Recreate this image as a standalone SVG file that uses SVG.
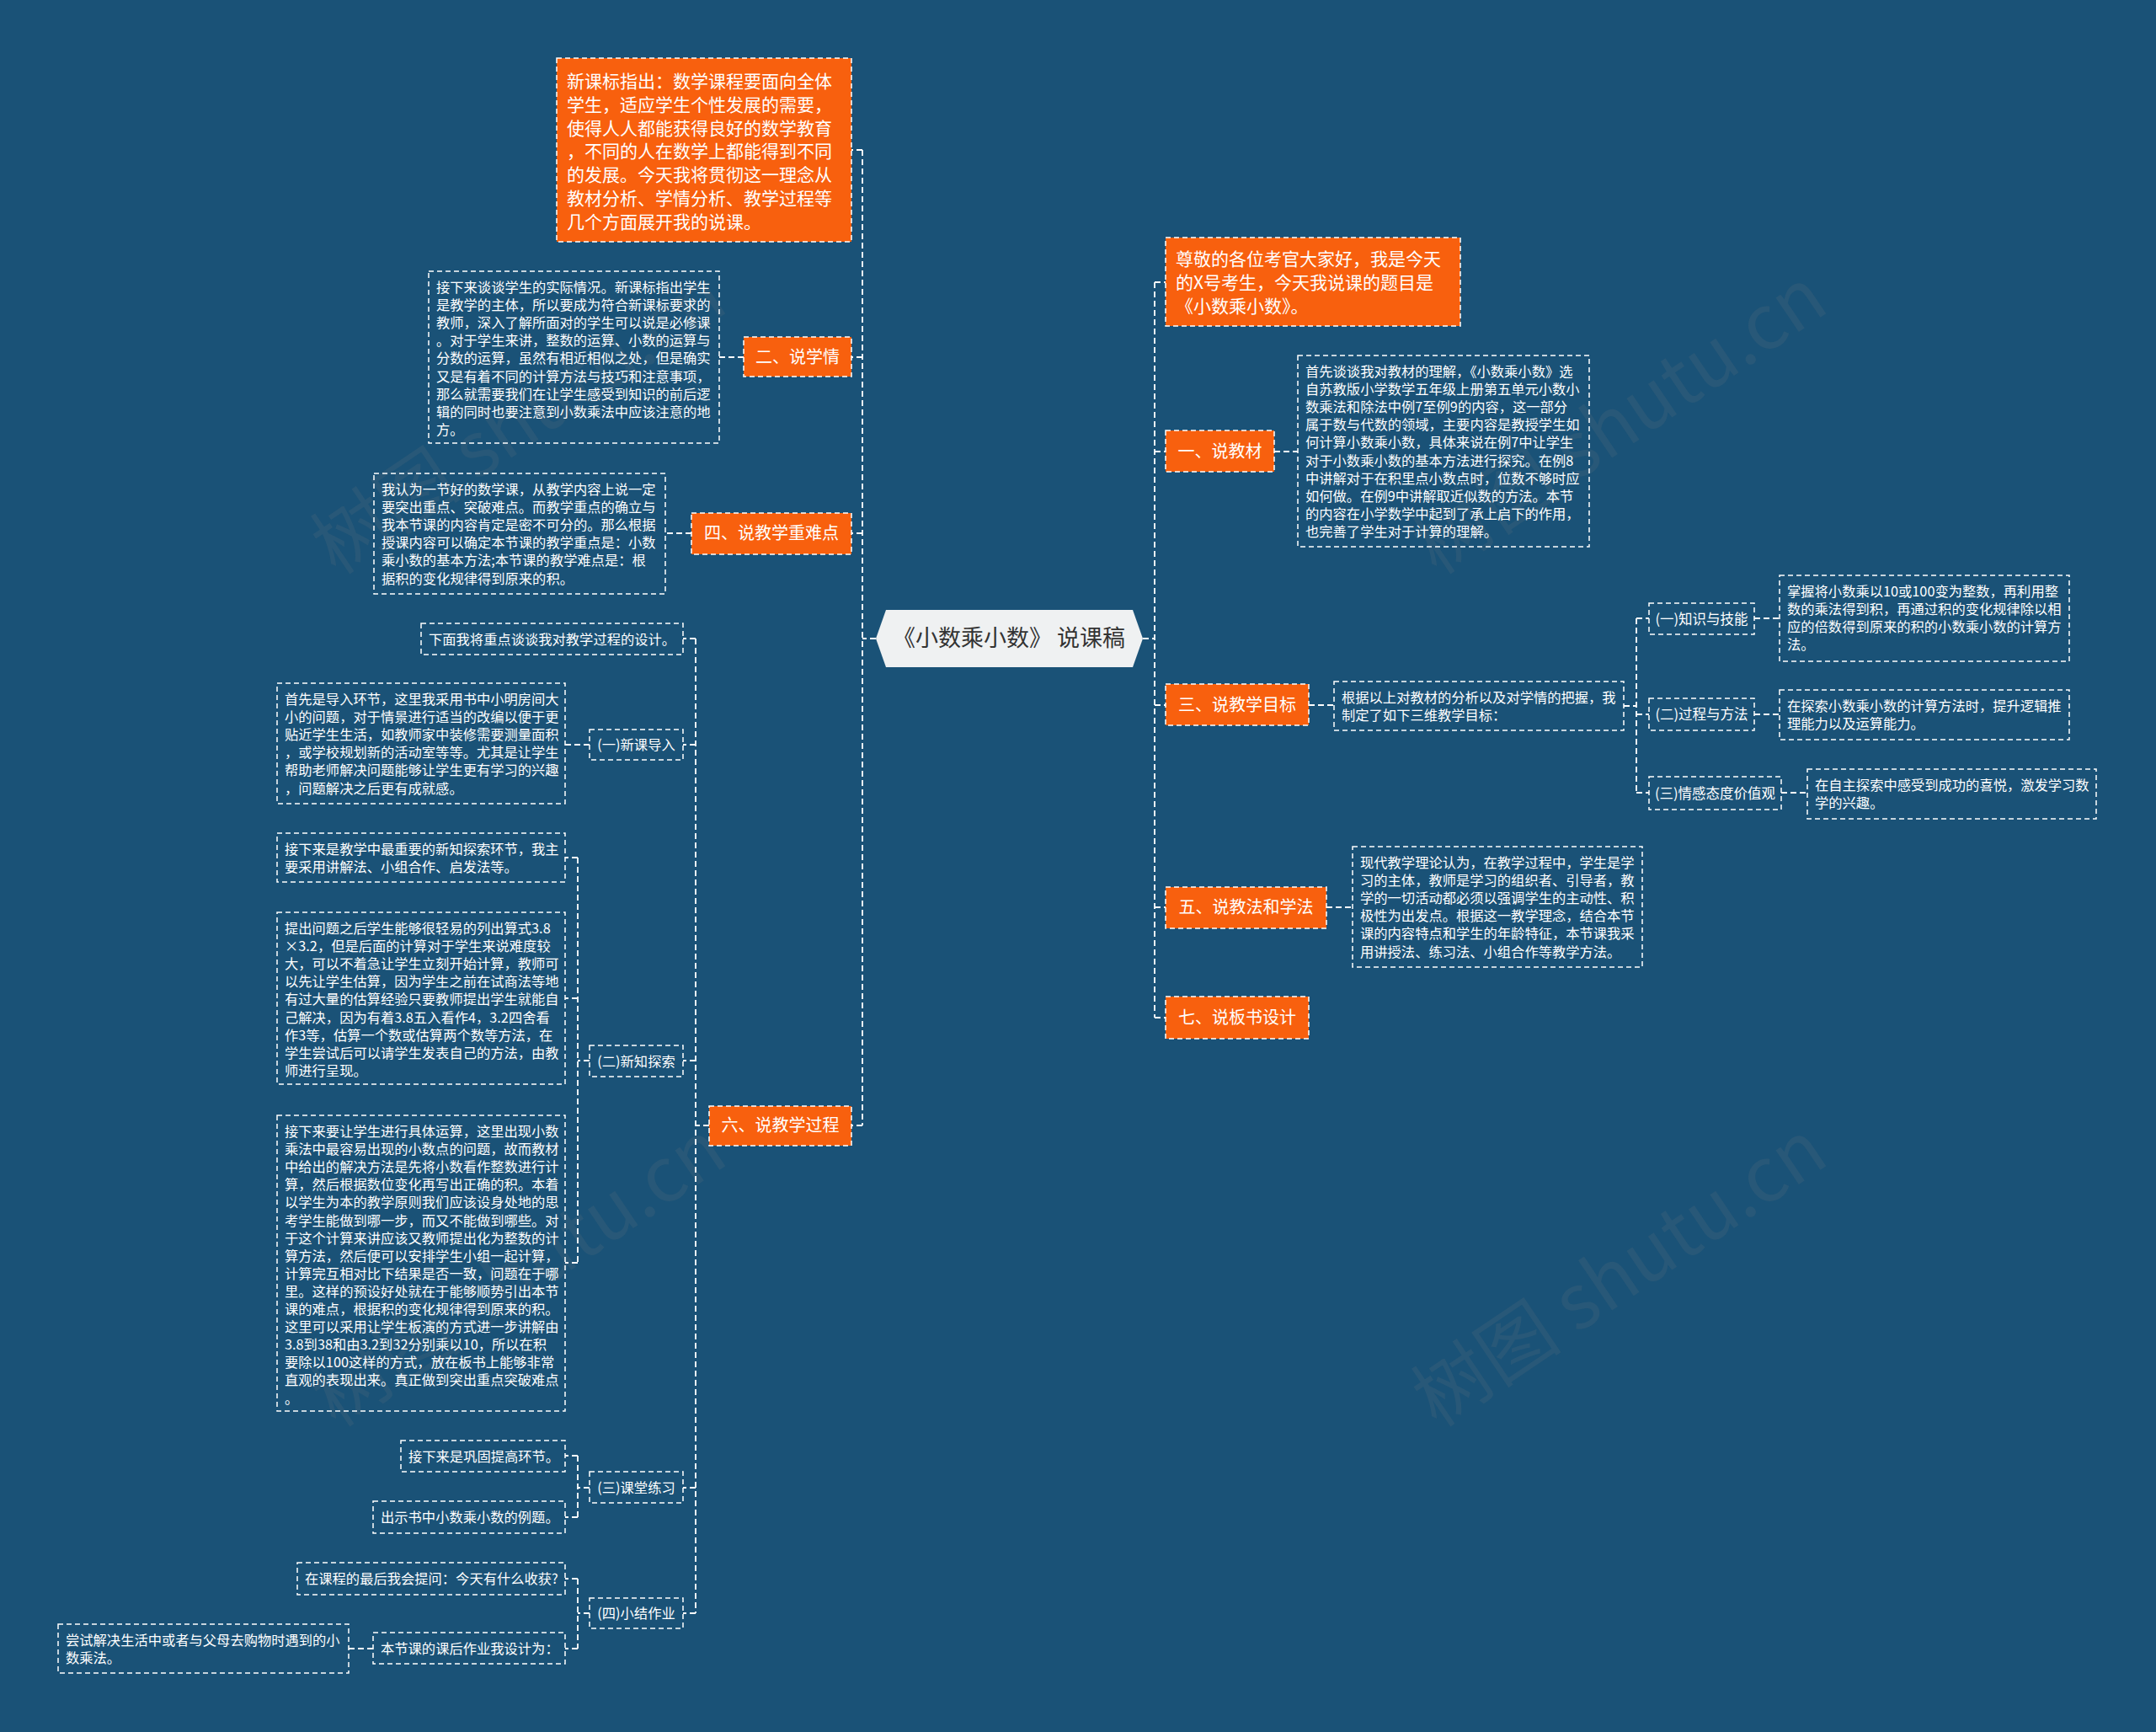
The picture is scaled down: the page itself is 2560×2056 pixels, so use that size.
<svg xmlns="http://www.w3.org/2000/svg" width="2560" height="2056" viewBox="0 0 2560 2056">
<style>
.t{font-family:"Noto Sans CJK SC","Noto Sans",sans-serif;fill:#ffffff;font-size:16.3px}
.tb{font-family:"Noto Sans CJK SC","Noto Sans",sans-serif;fill:#ffffff;font-size:21px}
.tn{font-family:"Noto Sans CJK SC","Noto Sans",sans-serif;fill:#ffffff;font-size:20px;text-anchor:middle}
.tl{font-family:"Noto Sans CJK SC","Noto Sans",sans-serif;fill:#ffffff;font-size:16.3px;text-anchor:middle}
.tr{font-family:"Noto Sans CJK SC","Noto Sans",sans-serif;fill:#ffffff;font-size:16.5px;text-anchor:middle}
.or{fill:#F8600E;stroke:#ffffff;stroke-width:1.5;stroke-dasharray:6 4}
.bx{fill:none;stroke:#ffffff;stroke-width:1.5;stroke-dasharray:6 4}
.cn{fill:none;stroke:#ffffff;stroke-width:1.8;stroke-dasharray:7 4}
.wm{font-family:"Noto Sans CJK SC","Liberation Serif",serif;font-size:90px;fill:#808080;fill-opacity:0.14}
</style>
<rect x="0" y="0" width="2560" height="2056" fill="#1A5277"/>
<g id="watermarks">
<text class="wm" x="620" y="530" text-anchor="middle" transform="rotate(-34 620 506)">树图 shutu.cn</text>
<text class="wm" x="1927" y="530" text-anchor="middle" transform="rotate(-34 1927 506)">树图 shutu.cn</text>
<text class="wm" x="620" y="1542" text-anchor="middle" transform="rotate(-34 620 1518)">树图 shutu.cn</text>
<text class="wm" x="1927" y="1542" text-anchor="middle" transform="rotate(-34 1927 1518)">树图 shutu.cn</text>
</g>
<g id="connectors">
<path class="cn" d="M1040 758H1024M1024 178V1336M1024 178H1011M1024 424H1011M1024 633H1011M1024 1336H1011"/>
<path class="cn" d="M1357 758H1371M1371 335V1208M1371 335H1384M1371 536H1384M1371 837H1384M1371 1077H1384M1371 1208H1384"/>
<path class="cn" d="M883 424H854M821 633H790"/>
<path class="cn" d="M842 1336H826M826 758V1915M826 758H811M826 884H811M826 1259H811M826 1766H811M826 1915H811"/>
<path class="cn" d="M700 884H671"/>
<path class="cn" d="M700 1259H686M686 1018V1499M686 1018H671M686 1185H671M686 1499H671"/>
<path class="cn" d="M700 1766H686M686 1728V1801M686 1728H671M686 1801H671"/>
<path class="cn" d="M700 1915H686M686 1874V1957M686 1874H671M686 1957H671"/>
<path class="cn" d="M443 1957H414"/>
<path class="cn" d="M1513 536H1541M1554 837H1584M1575 1077H1606"/>
<path class="cn" d="M1928 838H1943M1943 734V941M1943 734H1958M1943 848H1958M1943 941H1958"/>
<path class="cn" d="M2083 734H2113M2083 848H2113M2115 941H2146"/>
</g>
<g id="center">
<polygon points="1040,758 1052,724 1345,724 1357,758 1345,792 1052,792" fill="#EFF1F2"/>
<text x="1198" y="767" text-anchor="middle" font-family="Noto Sans CJK SC, Noto Sans, sans-serif" font-size="27" fill="#333333">《小数乘小数》 说课稿</text>
</g>
<g id="intro-left">
<rect class="or" x="661" y="69" width="350" height="218"/>
<text class="tb"><tspan x="673" y="104">新课标指出：数学课程要面向全体</tspan><tspan x="673" y="131.8">学生，适应学生个性发展的需要，</tspan><tspan x="673" y="159.6">使得人人都能获得良好的数学教育</tspan><tspan x="673" y="187.4">，不同的人在数学上都能得到不同</tspan><tspan x="673" y="215.2">的发展。今天我将贯彻这一理念从</tspan><tspan x="673" y="243">教材分析、学情分析、教学过程等</tspan><tspan x="673" y="270.8">几个方面展开我的说课。</tspan></text>
</g>
<g id="node-2">
<rect class="or" x="883" y="400" width="128" height="47"/>
<text class="tn" x="947" y="431">二、说学情</text>
</g>
<g id="node-2-text">
<rect class="bx" x="509" y="322" width="345" height="204"/>
<text class="t"><tspan x="518" y="347">接下来谈谈学生的实际情况。新课标指出学生</tspan><tspan x="518" y="368.1">是教学的主体，所以要成为符合新课标要求的</tspan><tspan x="518" y="389.2">教师，深入了解所面对的学生可以说是必修课</tspan><tspan x="518" y="410.3">。对于学生来讲，整数的运算、小数的运算与</tspan><tspan x="518" y="431.4">分数的运算，虽然有相近相似之处，但是确实</tspan><tspan x="518" y="452.5">又是有着不同的计算方法与技巧和注意事项，</tspan><tspan x="518" y="473.6">那么就需要我们在让学生感受到知识的前后逻</tspan><tspan x="518" y="494.7">辑的同时也要注意到小数乘法中应该注意的地</tspan><tspan x="518" y="515.8">方。</tspan></text>
</g>
<g id="node-4">
<rect class="or" x="821" y="609" width="190" height="49"/>
<text class="tn" x="916" y="640">四、说教学重难点</text>
</g>
<g id="node-4-text">
<rect class="bx" x="444" y="562" width="346" height="143"/>
<text class="t"><tspan x="453" y="587">我认为一节好的数学课，从教学内容上说一定</tspan><tspan x="453" y="608.1">要突出重点、突破难点。而教学重点的确立与</tspan><tspan x="453" y="629.2">我本节课的内容肯定是密不可分的。那么根据</tspan><tspan x="453" y="650.3">授课内容可以确定本节课的教学重点是：小数</tspan><tspan x="453" y="671.4">乘小数的基本方法;本节课的教学难点是：根</tspan><tspan x="453" y="692.5">据积的变化规律得到原来的积。</tspan></text>
</g>
<g id="node-6">
<rect class="or" x="842" y="1313" width="169" height="47"/>
<text class="tn" x="926.5" y="1343">六、说教学过程</text>
</g>
<g id="node-6-0">
<rect class="bx" x="500" y="740" width="311" height="37"/>
<text class="t" x="509" y="765">下面我将重点谈谈我对教学过程的设计。</text>
</g>
<g id="node-6-1">
<rect class="bx" x="700" y="866" width="111" height="36"/>
<text class="tl" x="755.5" y="890">(一)新课导入</text>
</g>
<g id="node-6-1-text">
<rect class="bx" x="329" y="811" width="342" height="143"/>
<text class="t"><tspan x="338" y="836">首先是导入环节，这里我采用书中小明房间大</tspan><tspan x="338" y="857.1">小的问题，对于情景进行适当的改编以便于更</tspan><tspan x="338" y="878.2">贴近学生生活，如教师家中装修需要测量面积</tspan><tspan x="338" y="899.3">，或学校规划新的活动室等等。尤其是让学生</tspan><tspan x="338" y="920.4">帮助老师解决问题能够让学生更有学习的兴趣</tspan><tspan x="338" y="941.5">，问题解决之后更有成就感。</tspan></text>
</g>
<g id="node-6-2">
<rect class="bx" x="700" y="1241" width="111" height="37"/>
<text class="tl" x="755.5" y="1265.5">(二)新知探索</text>
</g>
<g id="node-6-2-a">
<rect class="bx" x="329" y="989" width="342" height="58"/>
<text class="t"><tspan x="338" y="1014">接下来是教学中最重要的新知探索环节，我主</tspan><tspan x="338" y="1035.1">要采用讲解法、小组合作、启发法等。</tspan></text>
</g>
<g id="node-6-2-b">
<rect class="bx" x="329" y="1083" width="342" height="204"/>
<text class="t"><tspan x="338" y="1108">提出问题之后学生能够很轻易的列出算式3.8</tspan><tspan x="338" y="1129.1">×3.2，但是后面的计算对于学生来说难度较</tspan><tspan x="338" y="1150.2">大，可以不着急让学生立刻开始计算，教师可</tspan><tspan x="338" y="1171.3">以先让学生估算，因为学生之前在试商法等地</tspan><tspan x="338" y="1192.4">有过大量的估算经验只要教师提出学生就能自</tspan><tspan x="338" y="1213.5">己解决，因为有着3.8五入看作4，3.2四舍看</tspan><tspan x="338" y="1234.6">作3等，估算一个数或估算两个数等方法，在</tspan><tspan x="338" y="1255.7">学生尝试后可以请学生发表自己的方法，由教</tspan><tspan x="338" y="1276.8">师进行呈现。</tspan></text>
</g>
<g id="node-6-2-c">
<rect class="bx" x="329" y="1324" width="342" height="351"/>
<text class="t"><tspan x="338" y="1349">接下来要让学生进行具体运算，这里出现小数</tspan><tspan x="338" y="1370.1">乘法中最容易出现的小数点的问题，故而教材</tspan><tspan x="338" y="1391.2">中给出的解决方法是先将小数看作整数进行计</tspan><tspan x="338" y="1412.3">算，然后根据数位变化再写出正确的积。本着</tspan><tspan x="338" y="1433.4">以学生为本的教学原则我们应该设身处地的思</tspan><tspan x="338" y="1454.5">考学生能做到哪一步，而又不能做到哪些。对</tspan><tspan x="338" y="1475.6">于这个计算来讲应该又教师提出化为整数的计</tspan><tspan x="338" y="1496.7">算方法，然后便可以安排学生小组一起计算，</tspan><tspan x="338" y="1517.8">计算完互相对比下结果是否一致，问题在于哪</tspan><tspan x="338" y="1538.9">里。这样的预设好处就在于能够顺势引出本节</tspan><tspan x="338" y="1560">课的难点，根据积的变化规律得到原来的积。</tspan><tspan x="338" y="1581.1">这里可以采用让学生板演的方式进一步讲解由</tspan><tspan x="338" y="1602.2">3.8到38和由3.2到32分别乘以10，所以在积</tspan><tspan x="338" y="1623.3">要除以100这样的方式，放在板书上能够非常</tspan><tspan x="338" y="1644.4">直观的表现出来。真正做到突出重点突破难点</tspan><tspan x="338" y="1665.5">。</tspan></text>
</g>
<g id="node-6-3">
<rect class="bx" x="700" y="1747" width="111" height="37"/>
<text class="tl" x="755.5" y="1771.5">(三)课堂练习</text>
</g>
<g id="node-6-3-a">
<rect class="bx" x="476" y="1710" width="195" height="37"/>
<text class="t" x="485" y="1735">接下来是巩固提高环节。</text>
</g>
<g id="node-6-3-b">
<rect class="bx" x="443" y="1782" width="228" height="38"/>
<text class="t" x="452" y="1807">出示书中小数乘小数的例题。</text>
</g>
<g id="node-6-4">
<rect class="bx" x="700" y="1897" width="111" height="36"/>
<text class="tl" x="755.5" y="1921">(四)小结作业</text>
</g>
<g id="node-6-4-a">
<rect class="bx" x="353" y="1855" width="318" height="38"/>
<text class="t" x="362" y="1880">在课程的最后我会提问：今天有什么收获?</text>
</g>
<g id="node-6-4-b">
<rect class="bx" x="443" y="1938" width="228" height="37"/>
<text class="t" x="452" y="1963">本节课的课后作业我设计为：</text>
</g>
<g id="node-6-4-b-1">
<rect class="bx" x="69" y="1928" width="345" height="58"/>
<text class="t"><tspan x="78" y="1953">尝试解决生活中或者与父母去购物时遇到的小</tspan><tspan x="78" y="1974.1">数乘法。</tspan></text>
</g>
<g id="intro-right">
<rect class="or" x="1384" y="282" width="350" height="105"/>
<text class="tb"><tspan x="1396" y="315">尊敬的各位考官大家好，我是今天</tspan><tspan x="1396" y="343">的X号考生，今天我说课的题目是</tspan><tspan x="1396" y="371">《小数乘小数》。</tspan></text>
</g>
<g id="node-1">
<rect class="or" x="1384" y="511" width="129" height="49"/>
<text class="tn" x="1448.5" y="543">一、说教材</text>
</g>
<g id="node-1-text">
<rect class="bx" x="1541" y="422" width="346" height="227"/>
<text class="t"><tspan x="1550" y="447">首先谈谈我对教材的理解，《小数乘小数》选</tspan><tspan x="1550" y="468.1">自苏教版小学数学五年级上册第五单元小数小</tspan><tspan x="1550" y="489.2">数乘法和除法中例7至例9的内容，这一部分</tspan><tspan x="1550" y="510.3">属于数与代数的领域，主要内容是教授学生如</tspan><tspan x="1550" y="531.4">何计算小数乘小数，具体来说在例7中让学生</tspan><tspan x="1550" y="552.5">对于小数乘小数的基本方法进行探究。在例8</tspan><tspan x="1550" y="573.6">中讲解对于在积里点小数点时，位数不够时应</tspan><tspan x="1550" y="594.7">如何做。在例9中讲解取近似数的方法。本节</tspan><tspan x="1550" y="615.8">的内容在小学数学中起到了承上启下的作用，</tspan><tspan x="1550" y="636.9">也完善了学生对于计算的理解。</tspan></text>
</g>
<g id="node-3">
<rect class="or" x="1384" y="812" width="170" height="49"/>
<text class="tn" x="1469" y="844">三、说教学目标</text>
</g>
<g id="node-3-text">
<rect class="bx" x="1584" y="809" width="344" height="58"/>
<text class="t"><tspan x="1593" y="834">根据以上对教材的分析以及对学情的把握，我</tspan><tspan x="1593" y="855.1">制定了如下三维教学目标：</tspan></text>
</g>
<g id="node-3-1">
<rect class="bx" x="1958" y="716" width="125" height="37"/>
<text class="tr" x="2020.5" y="740.5">(一)知识与技能</text>
</g>
<g id="node-3-1-text">
<rect class="bx" x="2113" y="683" width="344" height="102"/>
<text class="t"><tspan x="2122" y="708">掌握将小数乘以10或100变为整数，再利用整</tspan><tspan x="2122" y="729.1">数的乘法得到积，再通过积的变化规律除以相</tspan><tspan x="2122" y="750.2">应的倍数得到原来的积的小数乘小数的计算方</tspan><tspan x="2122" y="771.3">法。</tspan></text>
</g>
<g id="node-3-2">
<rect class="bx" x="1958" y="829" width="125" height="38"/>
<text class="tr" x="2020.5" y="854">(二)过程与方法</text>
</g>
<g id="node-3-2-text">
<rect class="bx" x="2113" y="819" width="344" height="59"/>
<text class="t"><tspan x="2122" y="844">在探索小数乘小数的计算方法时，提升逻辑推</tspan><tspan x="2122" y="865.1">理能力以及运算能力。</tspan></text>
</g>
<g id="node-3-3">
<rect class="bx" x="1958" y="922" width="157" height="39"/>
<text class="tr" x="2036.5" y="947.5">(三)情感态度价值观</text>
</g>
<g id="node-3-3-text">
<rect class="bx" x="2146" y="913" width="343" height="59"/>
<text class="t"><tspan x="2155" y="938">在自主探索中感受到成功的喜悦，激发学习数</tspan><tspan x="2155" y="959.1">学的兴趣。</tspan></text>
</g>
<g id="node-5">
<rect class="or" x="1384" y="1053" width="191" height="49"/>
<text class="tn" x="1479.5" y="1084">五、说教法和学法</text>
</g>
<g id="node-5-text">
<rect class="bx" x="1606" y="1005" width="344" height="143"/>
<text class="t"><tspan x="1615" y="1030">现代教学理论认为，在教学过程中，学生是学</tspan><tspan x="1615" y="1051.1">习的主体，教师是学习的组织者、引导者，教</tspan><tspan x="1615" y="1072.2">学的一切活动都必须以强调学生的主动性、积</tspan><tspan x="1615" y="1093.3">极性为出发点。根据这一教学理念，结合本节</tspan><tspan x="1615" y="1114.4">课的内容特点和学生的年龄特征，本节课我采</tspan><tspan x="1615" y="1135.5">用讲授法、练习法、小组合作等教学方法。</tspan></text>
</g>
<g id="node-7">
<rect class="or" x="1384" y="1183" width="170" height="50"/>
<text class="tn" x="1469" y="1215">七、说板书设计</text>
</g>
</svg>
